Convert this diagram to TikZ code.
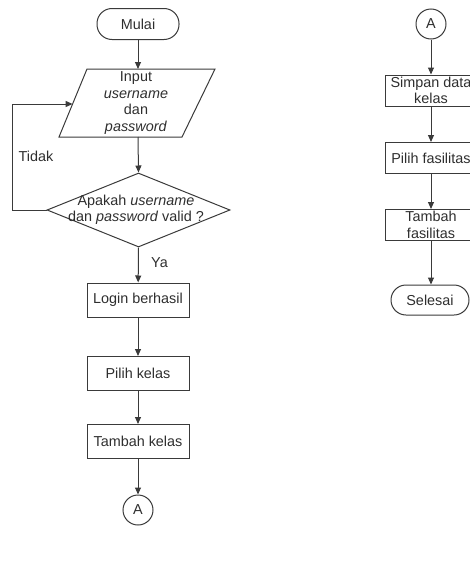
\documentclass[tikz,border=0pt]{standalone}
\usepackage{fontspec}
\setmainfont{Liberation Sans}
\usetikzlibrary{arrows.meta,shapes.geometric}
\definecolor{ln}{HTML}{3A3A3A}
\definecolor{tx}{HTML}{2E2E2E}
\begin{document}
\begin{tikzpicture}[x=1pt,y=-1pt,
  every node/.style={font=\fontsize{14.4}{16.4}\selectfont, text=tx},
  proc/.style={draw=ln, line width=1pt, rectangle, minimum width=102pt, minimum height=34pt, inner sep=0pt, align=center},
  procr/.style={draw=ln, line width=1pt, rectangle, minimum width=92pt, minimum height=31pt, inner sep=0pt, align=center},
  term/.style={draw=ln, line width=1pt, rectangle, rounded corners=15pt, minimum width=82pt, minimum height=31pt, inner sep=0pt},
  conn/.style={draw=ln, line width=1pt, circle, minimum size=30pt, inner sep=0pt},
  flow/.style={draw=ln, line width=1pt, -{Triangle[length=7pt,width=6pt]}},
  shapeline/.style={draw=ln, line width=1pt},
  lbl/.style={inner sep=0pt}
]
\useasboundingbox (0,0) rectangle (470,562);
% left column
\node[term] (mulai) at (138,24) {Mulai};
\coordinate (ptl) at (87,69);
\coordinate (ptr) at (215,69);
\coordinate (pbr) at (182,137);
\coordinate (pbl) at (59,137);
\draw[shapeline] (ptl) -- (ptr) -- (pbr) -- (pbl) -- cycle;
\node[align=center, inner sep=0pt] (input) at (136,103) {Input\\\textit{username}\\dan\\\textit{password}};
\coordinate (intop) at (138,69);
\coordinate (inbot) at (138,137);
\coordinate (inleft) at (72.6,104);
\node[diamond, draw=ln, line width=1pt, minimum width=183pt, minimum height=74pt, inner sep=0pt] (dec) at (138.5,210) {};
\node[align=center, inner sep=0pt] (dectext) at (136,210) {Apakah \textit{username}\\dan \textit{password} valid ?};
\coordinate (lpb) at (12,210);
\coordinate (lpt) at (12,104);
\node[lbl] (tidak) at (36,156) {Tidak};
\node[lbl] (ya) at (159.5,263) {Ya};
\node[proc] (login) at (138,300) {Login berhasil};
\node[proc] (pkelas) at (138,373.5) {Pilih kelas};
\node[proc] (tkelas) at (138,441.5) {Tambah kelas};
\node[conn] (a1) at (138,510) {A};
\draw[flow] (mulai) -- (intop);
\draw[flow] (inbot) -- (dec.north);
\draw[shapeline] (dec.west) -- (lpb) -- (lpt);
\draw[flow] (lpt) -- (inleft);
\draw[flow] (dec.south) -- (login);
\draw[flow] (login) -- (pkelas);
\draw[flow] (pkelas) -- (tkelas);
\draw[flow] (tkelas) -- (a1);
% right column
\node[conn] (a2) at (431,24) {A};
\node[procr] (simpan) at (431,90.5) {Simpan data\\kelas};
\node[procr] (pfas) at (431,158) {Pilih fasilitas};
\node[procr] (tfas) at (431,225) {Tambah\\fasilitas};
\node[term, minimum width=78pt, minimum height=30pt] (selesai) at (430,300) {Selesai};
\draw[flow] (a2) -- (simpan);
\draw[flow] (simpan) -- (pfas);
\draw[flow] (pfas) -- (tfas);
\draw[flow] (tfas) -- (tfas |- selesai.north);
\end{tikzpicture}
\end{document}
